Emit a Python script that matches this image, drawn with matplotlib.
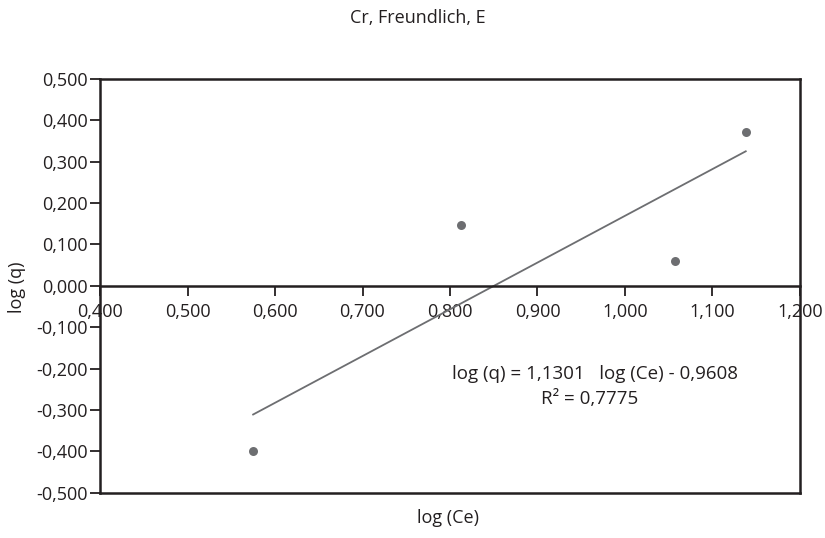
import numpy as np
import matplotlib.pyplot as plt
from matplotlib.ticker import FuncFormatter

plt.rcParams['font.family'] = ['Open Sans', 'DejaVu Sans']

# data
log_ce = [0.575, 0.812, 1.057, 1.138]
log_q = [-0.400, 0.147, 0.061, 0.372]
slope = 1.1301
intercept = -0.9608
r2 = 0.7775

x_ticks = np.arange(0.4, 1.21, 0.1)
y_ticks = np.arange(-0.5, 0.51, 0.1)

text_c = '#231f20'
mark_c = '#6d6e71'
fs = 13

fig = plt.figure(figsize=(8.25, 5.38), dpi=100)
ax = fig.add_axes([100 / 825, 1 - 492.7 / 538, 700 / 825, 413.7 / 538])

ax.scatter(log_ce, log_q, s=42, color=mark_c, zorder=3, linewidths=0)

# trend line from the equation shown in the chart
xl = np.array([min(log_ce), max(log_ce)])
ax.plot(xl, slope * xl + intercept, color=mark_c, lw=1.3)

ax.set_xlim(0.4, 1.2)
ax.set_ylim(-0.5, 0.5)
ax.set_xticks(x_ticks)
ax.set_yticks(y_ticks)

fmt = FuncFormatter(lambda v, p: f"{v:.3f}".replace('.', ',').replace('-0,000', '0,000'))
ax.xaxis.set_major_formatter(fmt)
ax.yaxis.set_major_formatter(fmt)

for s in ax.spines.values():
    s.set_color(text_c)
    s.set_linewidth(1.8)
ax.spines['bottom'].set_position(('data', 0))
# bottom border of the box
ax.plot([0, 1], [0, 0], transform=ax.transAxes, color=text_c, lw=1.8, clip_on=False)

ax.tick_params(axis='both', direction='out', length=7, width=1.3, color=text_c,
               labelcolor=text_c, labelsize=fs)
ax.tick_params(axis='x', pad=5)
ax.tick_params(axis='y', pad=2)

fig.text(418 / 825, 1 - 18 / 538, 'Cr, Freundlich, E', ha='center', va='center',
         fontsize=fs, color=text_c)
fig.text(448 / 825, 1 - 518 / 538, 'log (Ce)', ha='center', va='center',
         fontsize=fs, color=text_c)
fig.text(17 / 825, 1 - 287 / 538, 'log (q)', ha='center', va='center',
         rotation=90, fontsize=fs, color=text_c)

eq = f"log (q) = {slope:.4f}   log (Ce) - {abs(intercept):.4f}".replace('.', ',')
fig.text(595 / 825, 1 - 374 / 538, eq, ha='center', va='center', fontsize=13.5, color=text_c)
fig.text(590 / 825, 1 - 399 / 538, f"R² = {r2:.4f}".replace('.', ','), ha='center',
         va='center', fontsize=13.5, color=text_c)

fig.savefig('out.png', dpi=100)
